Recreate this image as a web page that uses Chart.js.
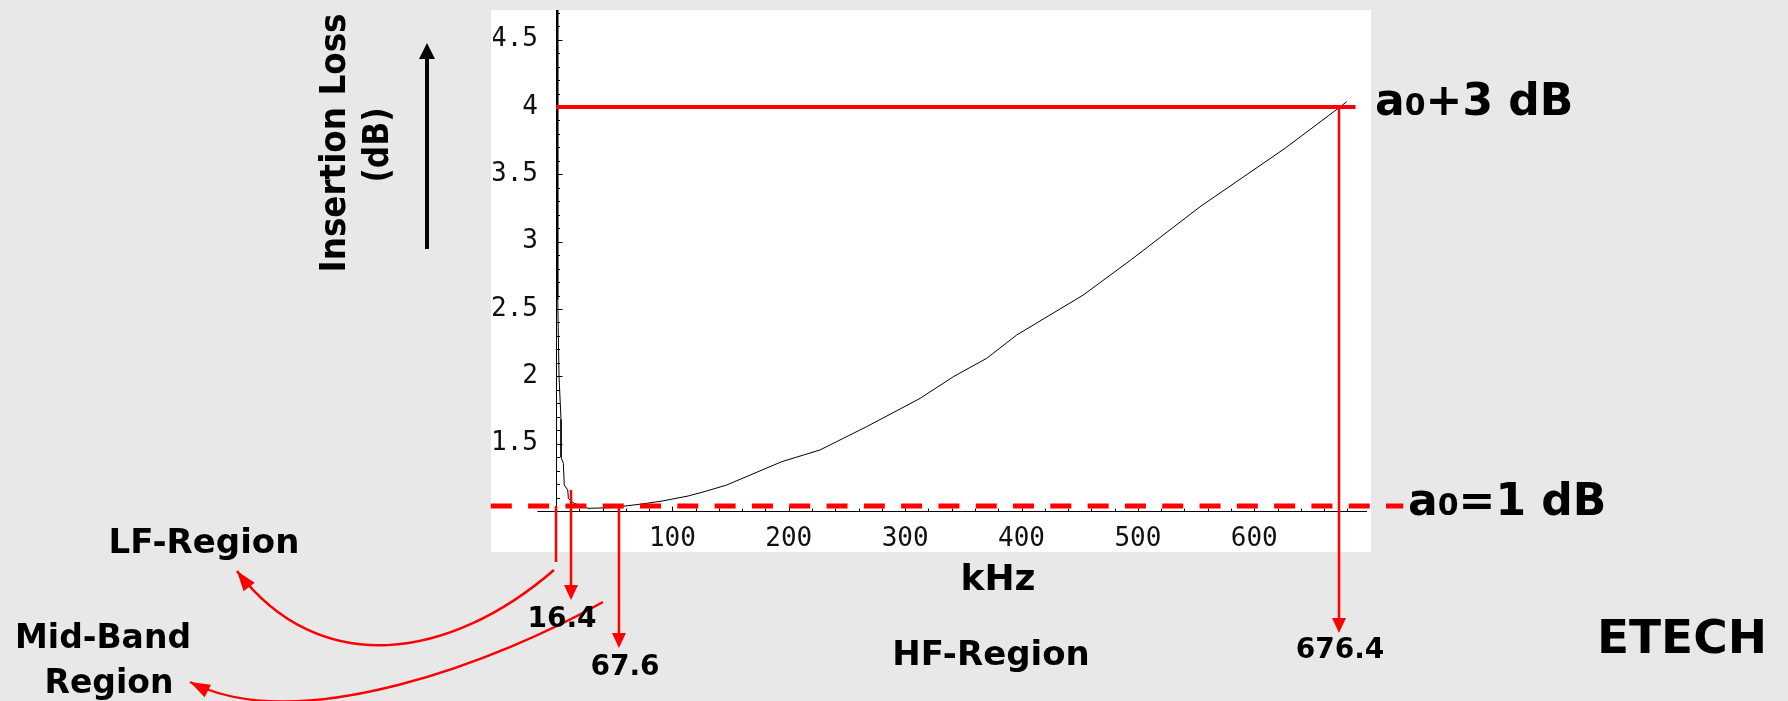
<!DOCTYPE html>
<html>
<head>
<meta charset="utf-8">
<title>Insertion Loss vs Frequency</title>
<script src="https://cdn.jsdelivr.net/npm/chart.js@4.4.1/dist/chart.umd.min.js"></script>
<style>
  html, body { margin: 0; padding: 0; background: #e8e8e8; }
  canvas { display: block; }
</style>
</head>
<body>
<canvas id="chart" width="1788" height="701"></canvas>
<script>
// insertion loss curve
const freqKHz = [1.4, 1.5, 2.6, 4.3, 4.3, 6.3, 7.1, 10.1, 10.6, 13.5, 15.7, 27.5, 50, 59.3, 73.9, 91.1, 113.4, 128, 146.7, 193.9, 226.8, 266.9, 312.8, 341.4, 370.1, 395.9, 453.1, 494.7, 553.4, 626.4, 672.2, 679.4]
const lossDB = [5.2, 2.57, 2.0, 1.68, 1.40, 1.354, 1.193, 1.156, 1.094, 1.069, 1.057, 1.02, 1.025, 1.037, 1.052, 1.074, 1.111, 1.145, 1.193, 1.366, 1.453, 1.626, 1.836, 1.997, 2.134, 2.307, 2.604, 2.869, 3.259, 3.693, 3.99, 4.039]

const xTickValues = [100, 200, 300, 400, 500, 600]
const yTickValues = [1.5, 2, 2.5, 3, 3.5, 4, 4.5]

// reference levels (dB) and where the cut-off arrows were drawn (kHz)
const a0Level = 1.037
const a3Level = 4.0
const cutoffLabels = ['16.4', '67.6', '676.4']
const cutoffX = [12.9, 54.1, 672.8]

function line(ctx, x1, y1, x2, y2) {
    ctx.beginPath()
    ctx.moveTo(x1, y1)
    ctx.lineTo(x2, y2)
    ctx.stroke()
}

function arrowHead(ctx, x, y, dx, dy, len, half) {
    const l = Math.hypot(dx, dy)
    const ux = dx / l, uy = dy / l
    ctx.beginPath()
    ctx.moveTo(x, y)
    ctx.lineTo(x - ux * len - uy * half, y - uy * len + ux * half)
    ctx.lineTo(x - ux * len + uy * half, y - uy * len - ux * half)
    ctx.closePath()
    ctx.fill()
}

function text(ctx, str, x, y, size, align) {
    ctx.font = 'bold ' + size + 'px "DejaVu Sans"'
    ctx.textAlign = align || 'center'
    ctx.textBaseline = 'alphabetic'
    ctx.fillText(str, x, y)
}

// "a" + small "0" + rest, left aligned
function subLabel(ctx, rest, x, y) {
    ctx.textAlign = 'left'
    ctx.textBaseline = 'alphabetic'
    ctx.font = 'bold 44px "DejaVu Sans"'
    ctx.fillText('a', x, y)
    x += ctx.measureText('a').width
    ctx.font = 'bold 30px "DejaVu Sans"'
    ctx.fillText('0', x, y)
    x += ctx.measureText('0').width
    ctx.font = 'bold 44px "DejaVu Sans"'
    ctx.fillText(rest, x, y)
}

function rotatedTitle(ctx, str, x, y, size, width) {
    ctx.save()
    ctx.translate(x, y)
    ctx.rotate(-Math.PI / 2)
    ctx.font = 'bold ' + size + 'px "DejaVu Sans"'
    ctx.textAlign = 'center'
    ctx.textBaseline = 'alphabetic'
    const w = ctx.measureText(str).width
    ctx.scale(width / w, 1)
    ctx.fillText(str, 0, 0)
    ctx.restore()
}

// fixed axis boxes so the plot area lands where the original one is
function fixBox(size) {
    return s => {
        if (s.isHorizontal()) s.height = size
        else s.width = size
        s.paddingLeft = s.paddingRight = s.paddingTop = s.paddingBottom = 0
    }
}

const backdrop = {
    id: 'backdrop',
    beforeDraw(chart) {
        const {ctx, chartArea: a} = chart
        ctx.save()
        ctx.fillStyle = '#e8e8e8'
        ctx.fillRect(0, 0, chart.width, chart.height)
        ctx.fillStyle = '#ffffff'
        ctx.fillRect(a.left - 65, a.top, a.right - a.left + 70, a.bottom - a.top + 41)
        ctx.restore()
    }
}

const annotations = {
    id: 'annotations',
    afterDraw(chart) {
        const ctx = chart.ctx
        const xs = chart.scales.x
        const ys = chart.scales.y
        const px = v => xs.getPixelForValue(v)
        const py = v => ys.getPixelForValue(v)
        ctx.save()

        // inward tick marks, Mathematica style
        ctx.strokeStyle = '#000'
        ctx.lineWidth = 1
        const x0 = Math.round(px(0)) + 0.5
        const yb = Math.round(py(1)) + 0.5
        for (let v = 20; v <= 680; v += 20) {
            const major = v % 100 === 0
            const x = Math.round(px(v)) + 0.5
            line(ctx, x, yb, x, yb - (major ? 5 : 3))
        }
        for (let i = 11; i <= 47; i++) {
            const v = i / 10
            const major = i % 5 === 0
            const y = Math.round(py(v)) + 0.5
            line(ctx, x0, y, x0 + (major ? 6 : 3.5), y)
        }
        // x axis runs a little left of the origin
        line(ctx, px(-16), yb, px(0), yb)

        ctx.strokeStyle = '#ff0000'
        ctx.fillStyle = '#ff0000'

        // a0 + 3 dB level
        ctx.lineWidth = 4
        line(ctx, px(0), py(a3Level), px(687), py(a3Level))

        // a0 level, dashed
        ctx.lineWidth = 5
        ctx.setLineDash([21, 16.3])
        line(ctx, px(-56), py(a0Level), px(728), py(a0Level))
        ctx.setLineDash([])

        // cut-off markers
        ctx.lineWidth = 2.5
        line(ctx, px(0), py(a0Level), px(0), 562)
        const tips = [600, 648, 633]
        const starts = [1.156, a0Level, a3Level]
        cutoffX.forEach((f, i) => {
            const x = px(f)
            line(ctx, x, py(starts[i]), x, tips[i] - 12)
            arrowHead(ctx, x, tips[i], 0, 1, 15, 7)
        })

        // curved arrows to region labels
        ctx.lineWidth = 2.5
        ctx.beginPath()
        ctx.moveTo(554, 570)
        ctx.bezierCurveTo(450, 660, 320, 680, 237, 571)
        ctx.stroke()
        arrowHead(ctx, 237, 571, -83, -109, 20, 7)
        ctx.beginPath()
        ctx.moveTo(603, 602)
        ctx.bezierCurveTo(500, 660, 300, 738, 190, 682)
        ctx.stroke()
        arrowHead(ctx, 190, 682, -110, -56, 20, 7)

        // y title and up arrow
        ctx.fillStyle = '#000'
        ctx.strokeStyle = '#000'
        rotatedTitle(ctx, 'Insertion Loss', 345, 143, 36, 259)
        rotatedTitle(ctx, '(dB)', 388, 145, 36, 75)
        ctx.lineWidth = 4
        line(ctx, 427, 249, 427, 55)
        arrowHead(ctx, 427, 43, 0, -1, 16, 8)

        // texts
        text(ctx, 'kHz', 998, 590, 36)
        text(ctx, cutoffLabels[0], 562, 627, 28)
        text(ctx, cutoffLabels[1], 625, 675, 28)
        text(ctx, cutoffLabels[2], 1340, 658, 28)
        text(ctx, 'LF-Region', 204, 553, 34)
        text(ctx, 'Mid-Band', 103, 648, 33)
        text(ctx, 'Region', 109, 693, 33)
        text(ctx, 'HF-Region', 991, 665, 34)
        text(ctx, 'ETECH', 1682, 653, 47)
        subLabel(ctx, '+3 dB', 1375, 115)
        subLabel(ctx, '=1 dB', 1408, 515)

        ctx.restore()
    }
}

new Chart(document.getElementById('chart'), {
    type: 'line',
    data: {
        datasets: [{
            label: 'Insertion Loss',
            data: freqKHz.map((f, i) => ({x: f, y: lossDB[i]})),
            borderColor: '#000',
            borderWidth: 1,
            pointRadius: 0,
            tension: 0,
            fill: false
        }]
    },
    options: {
        responsive: false,
        devicePixelRatio: 1,
        animation: false,
        events: [],
        layout: {autoPadding: false, padding: {left: 493, right: 422, top: 10, bottom: 148}},
        plugins: {legend: {display: false}, tooltip: {enabled: false}},
        scales: {
            x: {
                type: 'linear',
                position: 'bottom',
                min: 0,
                max: 696,
                afterBuildTicks: s => { s.ticks = xTickValues.map(v => ({value: v})) },
                afterFit: fixBox(42),
                ticks: {
                    callback: v => String(v),
                    color: '#111',
                    padding: 13,
                    maxRotation: 0,
                    font: {family: 'DejaVu Sans Mono', size: 26}
                },
                grid: {display: false, drawTicks: false},
                border: {display: true, color: '#000', width: 1}
            },
            y: {
                type: 'linear',
                position: 'left',
                min: 1.0,
                max: 4.72,
                afterBuildTicks: s => { s.ticks = yTickValues.map(v => ({value: v})) },
                afterFit: fixBox(63),
                ticks: {
                    callback: v => String(v),
                    color: '#111',
                    padding: 18,
                    font: {family: 'DejaVu Sans Mono', size: 26}
                },
                grid: {display: false, drawTicks: false},
                border: {display: true, color: '#000', width: 1}
            }
        }
    },
    plugins: [backdrop, annotations]
})
</script>
</body>
</html>
